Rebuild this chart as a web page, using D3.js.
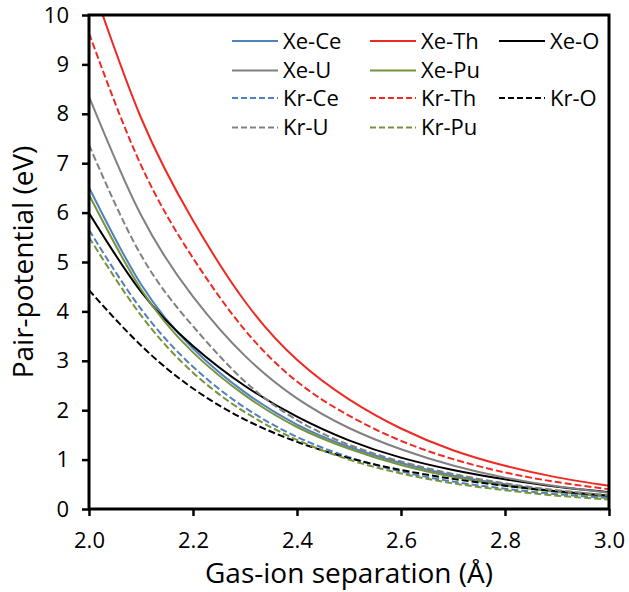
<!DOCTYPE html>
<html>
<head>
<meta charset="utf-8">
<script src="https://cdn.jsdelivr.net/npm/d3@7"></script>
<style>
  html, body { margin: 0; padding: 0; background: #fff; }
  svg { display: block; font-family: "Open Sans", "Noto Sans", sans-serif; }
</style>
</head>
<body>
<svg id="chart" width="629" height="592"></svg>
<script>
// Gas-ion separation (Å), sampled every 0.1
const separation = [2.0, 2.1, 2.2, 2.3, 2.4, 2.5, 2.6, 2.7, 2.8, 2.9, 3.0];

// Pair-potential (eV) for each gas-ion pair
const xeCe = [6.51, 4.55, 3.25, 2.36, 1.71, 1.26, 0.93, 0.68, 0.50, 0.36, 0.26];
const xeTh = [10.8, 7.92, 5.84, 4.20, 3.02, 2.22, 1.63, 1.19, 0.875, 0.64, 0.47];
const xeO  = [5.99, 4.40, 3.30, 2.49, 1.87, 1.39, 1.04, 0.79, 0.60, 0.45, 0.34];
const xeU  = [8.35, 5.95, 4.30, 3.10, 2.24, 1.64, 1.21, 0.88, 0.635, 0.46, 0.33];
const xePu = [6.36, 4.45, 3.17, 2.30, 1.66, 1.22, 0.89, 0.65, 0.475, 0.345, 0.245];
const krCe = [5.65, 4.05, 2.88, 2.05, 1.46, 1.05, 0.76, 0.555, 0.41, 0.30, 0.22];
const krTh = [9.63, 6.96, 5.08, 3.62, 2.58, 1.89, 1.38, 1.01, 0.74, 0.545, 0.40];
const krO  = [4.43, 3.31, 2.44, 1.81, 1.36, 1.03, 0.79, 0.61, 0.47, 0.36, 0.27];
const krU  = [7.37, 5.14, 3.70, 2.58, 1.80, 1.30, 0.96, 0.71, 0.52, 0.38, 0.28];
const krPu = [5.50, 3.92, 2.76, 1.96, 1.40, 1.00, 0.72, 0.52, 0.38, 0.27, 0.19];

// Tick labels
const xTicks = [2.0, 2.2, 2.4, 2.6, 2.8, 3.0];
const yTicks = [0, 1, 2, 3, 4, 5, 6, 7, 8, 9, 10];

// Series list in legend order (row, column)
const series = [
  { name: "Xe-Ce", values: xeCe, color: "#4F81BD", dashed: false, row: 0, col: 0 },
  { name: "Xe-Th", values: xeTh, color: "#EE2A24", dashed: false, row: 0, col: 1 },
  { name: "Xe-O",  values: xeO,  color: "#000000", dashed: false, row: 0, col: 2 },
  { name: "Xe-U",  values: xeU,  color: "#808080", dashed: false, row: 1, col: 0 },
  { name: "Xe-Pu", values: xePu, color: "#77933C", dashed: false, row: 1, col: 1 },
  { name: "Kr-Ce", values: krCe, color: "#4F81BD", dashed: true,  row: 2, col: 0 },
  { name: "Kr-Th", values: krTh, color: "#EE2A24", dashed: true,  row: 2, col: 1 },
  { name: "Kr-O",  values: krO,  color: "#000000", dashed: true,  row: 2, col: 2 },
  { name: "Kr-U",  values: krU,  color: "#808080", dashed: true,  row: 3, col: 0 },
  { name: "Kr-Pu", values: krPu, color: "#77933C", dashed: true,  row: 3, col: 1 }
];

const plot = { left: 89, right: 609, top: 15, bottom: 509 };
const svg = d3.select("#chart");

const x = d3.scaleLinear().domain([2.0, 3.0]).range([plot.left, plot.right]);
const y = d3.scaleLinear().domain([0, 10]).range([plot.bottom, plot.top]);

svg.append("defs").append("clipPath").attr("id", "plot-clip")
  .append("rect")
  .attr("x", plot.left).attr("y", plot.top)
  .attr("width", plot.right - plot.left).attr("height", plot.bottom - plot.top);

// Curves
const line = d3.line()
  .x((d, i) => x(separation[i]))
  .y(d => y(d))
  .curve(d3.curveNatural);

const curves = svg.append("g").attr("clip-path", "url(#plot-clip)");
curves.selectAll("path")
  .data(series)
  .join("path")
  .attr("d", s => line(s.values))
  .attr("fill", "none")
  .attr("stroke", s => s.color)
  .attr("stroke-width", 2)
  .attr("stroke-dasharray", s => s.dashed ? "7,3" : null);

// Axes
const xAxis = d3.axisBottom(x).tickValues(xTicks).tickFormat(d3.format(".1f"))
  .tickSize(7).tickPadding(16);
const yAxis = d3.axisLeft(y).tickValues(yTicks).tickFormat(d3.format("d"))
  .tickSize(7).tickPadding(13);

const gx = svg.append("g").attr("transform", `translate(0,${plot.bottom})`).call(xAxis);
const gy = svg.append("g").attr("transform", `translate(${plot.left},0)`).call(yAxis);

[gx, gy].forEach(g => {
  g.select(".domain").remove();
  g.selectAll(".tick line").attr("stroke", "#000").attr("stroke-width", 2.5);
  g.selectAll(".tick text").attr("fill", "#000").attr("font-size", 22)
    .attr("font-family", "\"Open Sans\", sans-serif");
});

// Plot frame
svg.append("rect")
  .attr("x", plot.left).attr("y", plot.top)
  .attr("width", plot.right - plot.left).attr("height", plot.bottom - plot.top)
  .attr("fill", "none").attr("stroke", "#000").attr("stroke-width", 3);

// Axis titles
svg.append("text")
  .attr("x", (plot.left + plot.right) / 2).attr("y", 583)
  .attr("text-anchor", "middle").attr("font-size", 28).attr("fill", "#000")
  .text("Gas-ion separation (Å)");

svg.append("text")
  .attr("transform", `translate(33,${(plot.top + plot.bottom) / 2}) rotate(-90)`)
  .attr("text-anchor", "middle").attr("font-size", 28).attr("fill", "#000")
  .text("Pair-potential (eV)");

// Legend
const legendCols = [232, 370, 499];
const legendRows = [41, 70.5, 98, 127.5];
const legend = svg.append("g");
const item = legend.selectAll("g").data(series).join("g")
  .attr("transform", s => `translate(${legendCols[s.col]},${legendRows[s.row]})`);
item.append("line")
  .attr("x1", 0).attr("x2", 46).attr("y1", 0).attr("y2", 0)
  .attr("stroke", s => s.color).attr("stroke-width", 2)
  .attr("stroke-dasharray", s => s.dashed ? "6,3" : null);
item.append("text")
  .attr("x", 51).attr("y", 0).attr("dy", "0.35em")
  .attr("font-size", 22).attr("fill", "#000")
  .text(s => s.name);
</script>
</body>
</html>
